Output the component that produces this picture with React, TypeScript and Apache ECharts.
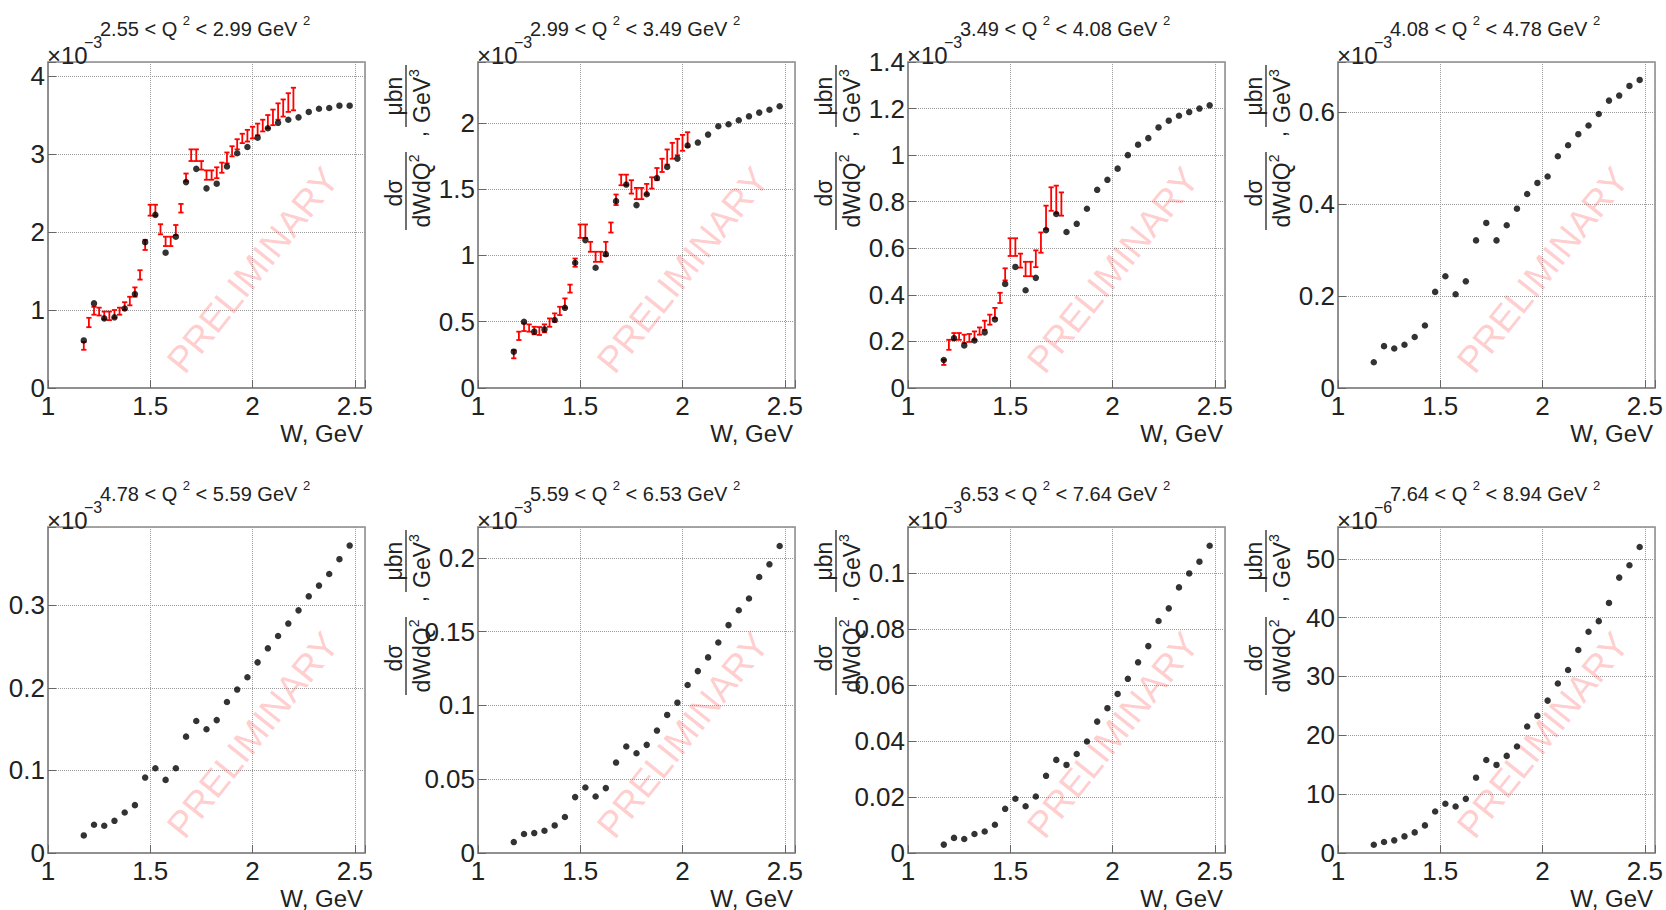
import React, { useEffect, useRef } from "react";
import * as echarts from "echarts";

const FONT = '"Liberation Sans", Arial, Helvetica, sans-serif';

// ---------- data ----------
const Q2_LOW = [2.55, 2.99, 3.49, 4.08, 4.78, 5.59, 6.53, 7.64];
const Q2_HIGH = [2.99, 3.49, 4.08, 4.78, 5.59, 6.53, 7.64, 8.94];
const EXPONENTS = ["\u22123", "\u22123", "\u22123", "\u22123", "\u22123", "\u22123", "\u22123", "\u22126"];
const Y_MAX = [4.18, 2.46, 1.4, 0.709, 0.395, 0.221, 0.1166, 55.4];
const Y_STEP = [1, 0.5, 0.2, 0.2, 0.1, 0.05, 0.02, 10];
const X_MIN = 1;
const X_MAX = 2.55;
const X_STEP = 0.5;

const W_POINTS = [
  1.175, 1.225, 1.275, 1.325, 1.375, 1.425, 1.475, 1.525, 1.575, 1.625, 1.675, 1.725, 1.775, 1.825,
  1.875, 1.925, 1.975, 2.025, 2.075, 2.125, 2.175, 2.225, 2.275, 2.325, 2.375, 2.425, 2.475,
];

const P1 = [0.61, 1.085, 0.893, 0.906, 1.02, 1.205, 1.87, 2.22, 1.735, 1.94, 2.64, 2.81, 2.56, 2.62, 2.84, 3.01, 3.09, 3.21, 3.33, 3.4, 3.44, 3.47, 3.54, 3.58, 3.59, 3.62, 3.62];
const P2 = [0.274, 0.5, 0.425, 0.442, 0.513, 0.605, 0.945, 1.116, 0.907, 1.01, 1.41, 1.535, 1.38, 1.462, 1.585, 1.668, 1.731, 1.83, 1.852, 1.912, 1.975, 1.99, 2.02, 2.05, 2.078, 2.1, 2.126];
const P3 = [0.12, 0.214, 0.183, 0.204, 0.239, 0.294, 0.447, 0.52, 0.42, 0.473, 0.678, 0.747, 0.67, 0.705, 0.77, 0.851, 0.894, 0.942, 1.0, 1.045, 1.073, 1.119, 1.148, 1.169, 1.185, 1.2, 1.214];
const P4 = [0.056, 0.091, 0.086, 0.094, 0.111, 0.136, 0.209, 0.243, 0.204, 0.232, 0.321, 0.359, 0.321, 0.354, 0.39, 0.422, 0.446, 0.46, 0.504, 0.528, 0.552, 0.571, 0.596, 0.625, 0.636, 0.657, 0.67];
const P5 = [0.0213, 0.0342, 0.033, 0.039, 0.049, 0.058, 0.0914, 0.1027, 0.0886, 0.1027, 0.141, 0.16, 0.15, 0.161, 0.183, 0.198, 0.213, 0.231, 0.248, 0.263, 0.278, 0.294, 0.311, 0.324, 0.338, 0.356, 0.3725];
const P6 = [0.0074, 0.0129, 0.0135, 0.0151, 0.0187, 0.0244, 0.0379, 0.0444, 0.0383, 0.044, 0.0613, 0.0722, 0.0676, 0.0733, 0.083, 0.0936, 0.1019, 0.1139, 0.1233, 0.1326, 0.1427, 0.1545, 0.1646, 0.1725, 0.1871, 0.1957, 0.2081];
const P7 = [0.003, 0.0054, 0.005, 0.0068, 0.0077, 0.0101, 0.0158, 0.0194, 0.0167, 0.0202, 0.0276, 0.0333, 0.0315, 0.0354, 0.0399, 0.047, 0.0518, 0.0569, 0.0623, 0.0682, 0.074, 0.083, 0.0875, 0.095, 0.1, 0.1042, 0.1099];
const P8 = [1.41, 1.86, 2.15, 2.82, 3.5, 4.69, 7.06, 8.36, 7.9, 9.2, 12.8, 15.8, 14.97, 16.5, 18.1, 21.5, 23.3, 25.9, 28.8, 31.1, 34.5, 37.6, 39.4, 42.5, 46.8, 48.9, 52.0];
const PANEL_VALUES = [P1, P2, P3, P4, P5, P6, P7, P8];

// red error bars (other measurement): W, low, high
const R1_W = [1.175, 1.2, 1.225, 1.25, 1.275, 1.3, 1.325, 1.35, 1.375, 1.4, 1.425, 1.45, 1.475, 1.5, 1.525, 1.55, 1.575, 1.6, 1.625, 1.65, 1.675, 1.7, 1.725, 1.75, 1.775, 1.8, 1.825, 1.85, 1.875, 1.9, 1.925, 1.95, 1.975, 2.0, 2.025, 2.05, 2.075, 2.1, 2.125, 2.15, 2.175, 2.2];
const R1_LO = [0.49, 0.78, 0.94, 0.93, 0.88, 0.87, 0.9, 0.94, 1.0, 1.06, 1.17, 1.39, 1.77, 2.21, 2.21, 1.97, 1.82, 1.82, 1.96, 2.25, 2.65, 2.91, 2.91, 2.8, 2.67, 2.67, 2.69, 2.76, 2.88, 2.97, 3.06, 3.14, 3.16, 3.2, 3.24, 3.29, 3.33, 3.37, 3.44, 3.48, 3.54, 3.56];
const R1_HI = [0.59, 0.9, 1.04, 1.03, 0.98, 0.98, 1.0, 1.03, 1.1, 1.17, 1.29, 1.51, 1.9, 2.35, 2.35, 2.1, 1.94, 1.94, 2.09, 2.36, 2.75, 3.06, 3.06, 2.91, 2.79, 2.79, 2.83, 2.89, 3.02, 3.1, 3.19, 3.26, 3.31, 3.35, 3.39, 3.44, 3.5, 3.57, 3.65, 3.7, 3.78, 3.85];

const R2_W = [1.175, 1.2, 1.225, 1.25, 1.275, 1.3, 1.325, 1.35, 1.375, 1.4, 1.425, 1.45, 1.475, 1.5, 1.525, 1.55, 1.575, 1.6, 1.625, 1.65, 1.675, 1.7, 1.725, 1.75, 1.775, 1.8, 1.825, 1.85, 1.875, 1.9, 1.925, 1.95, 1.975, 2.0, 2.025];
const R2_LO = [0.224, 0.362, 0.43, 0.425, 0.405, 0.4, 0.42, 0.462, 0.5, 0.55, 0.605, 0.72, 0.915, 1.133, 1.133, 1.028, 0.952, 0.952, 0.997, 1.173, 1.38, 1.53, 1.53, 1.467, 1.425, 1.425, 1.46, 1.505, 1.568, 1.63, 1.686, 1.73, 1.756, 1.79, 1.82];
const R2_HI = [0.286, 0.425, 0.487, 0.48, 0.462, 0.46, 0.48, 0.525, 0.563, 0.613, 0.676, 0.78, 0.977, 1.234, 1.234, 1.103, 1.028, 1.028, 1.103, 1.249, 1.46, 1.61, 1.61, 1.568, 1.51, 1.51, 1.54, 1.59, 1.66, 1.73, 1.8, 1.85, 1.88, 1.91, 1.93];

const R3_W = [1.175, 1.2, 1.225, 1.25, 1.275, 1.3, 1.325, 1.35, 1.375, 1.4, 1.425, 1.45, 1.475, 1.5, 1.525, 1.55, 1.575, 1.6, 1.625, 1.65, 1.675, 1.7, 1.725, 1.75];
const R3_LO = [0.099, 0.164, 0.207, 0.207, 0.193, 0.198, 0.207, 0.229, 0.25, 0.272, 0.3, 0.365, 0.462, 0.567, 0.567, 0.517, 0.48, 0.48, 0.519, 0.581, 0.682, 0.761, 0.75, 0.74];
const R3_HI = [0.121, 0.207, 0.236, 0.236, 0.229, 0.232, 0.243, 0.26, 0.289, 0.315, 0.344, 0.409, 0.514, 0.643, 0.643, 0.577, 0.542, 0.542, 0.591, 0.668, 0.783, 0.862, 0.869, 0.84];

const RED_SETS = [
  { panel: 0, w: R1_W, lo: R1_LO, hi: R1_HI },
  { panel: 1, w: R2_W, lo: R2_LO, hi: R2_HI },
  { panel: 2, w: R3_W, lo: R3_LO, hi: R3_HI },
];

// ---------- layout ----------
const GRID_LEFT = [48, 478, 908, 1338];
const GRID_TOP = [62, 527];
const GRID_W = 317;
const GRID_H = 326;

const isMultiple = (v: number, step: number) => Math.abs(v / step - Math.round(v / step)) < 1e-6;
const fmt = (v: number) => String(parseFloat(v.toFixed(6)));

function buildOption() {
  const grids: any[] = [];
  const xAxes: any[] = [];
  const yAxes: any[] = [];
  const series: any[] = [];
  const graphics: any[] = [];

  for (let i = 0; i < 8; i++) {
    const col = i % 4;
    const row = Math.floor(i / 4);
    const left = GRID_LEFT[col];
    const top = GRID_TOP[row];
    grids.push({
      left,
      top,
      width: GRID_W,
      height: GRID_H,
      show: true,
      borderColor: "#8a8a8a",
      borderWidth: 1.5,
      containLabel: false,
      outerBoundsMode: "none",
    });
    const gridLine = { show: true, lineStyle: { type: "dotted", color: "#9a9a9a", width: 1 } };
    xAxes.push({
      gridIndex: i,
      type: "value",
      min: X_MIN,
      max: X_MAX,
      interval: X_STEP,
      axisLine: { show: true, onZero: false, lineStyle: { color: "#8a8a8a", width: 1.5 } },
      axisTick: { show: true, inside: true, length: 8, lineStyle: { color: "#666", width: 1 } },
      axisLabel: {
        fontSize: 26,
        fontFamily: FONT,
        color: "#222",
        margin: 5,
        formatter: (v: number) => (isMultiple(v, X_STEP) ? fmt(v) : ""),
      },
      splitLine: gridLine,
    });
    const step = Y_STEP[i];
    yAxes.push({
      gridIndex: i,
      type: "value",
      min: 0,
      max: Y_MAX[i],
      interval: step,
      axisLine: { show: true, onZero: false, lineStyle: { color: "#8a8a8a", width: 1.5 } },
      axisTick: { show: true, inside: true, length: 8, lineStyle: { color: "#666", width: 1 } },
      axisLabel: {
        fontSize: 26,
        fontFamily: FONT,
        color: "#222",
        margin: 3,
        formatter: (v: number) => (isMultiple(v, step) ? fmt(v) : ""),
      },
      splitLine: gridLine,
    });

    series.push({
      type: "scatter",
      xAxisIndex: i,
      yAxisIndex: i,
      symbol: "circle",
      symbolSize: 6.5,
      itemStyle: { color: "#000" },
      z: 4,
      data: W_POINTS.map((w, j) => [w, PANEL_VALUES[i][j]]),
    });

    // title
    graphics.push({
      type: "text",
      x: left + 52,
      y: top - 36,
      z: 10,
      style: {
        text: `{n|${Q2_LOW[i].toFixed(2)} < Q }{s|2}{n| < ${Q2_HIGH[i].toFixed(2)} GeV }{s|2}`,
        fontFamily: FONT,
        fontSize: 20,
        fill: "#222",
        align: "left",
        textAlign: "left",
        verticalAlign: "middle",
        textVerticalAlign: "middle",
        rich: {
          n: { fontSize: 20, lineHeight: 25, fontFamily: FONT, fill: "#222", color: "#222", verticalAlign: "bottom" },
          s: { fontSize: 13, lineHeight: 14, fontFamily: FONT, fill: "#222", color: "#222", verticalAlign: "top" },
        },
      },
    });
    // exponent label
    graphics.push({
      type: "text",
      x: left - 1,
      y: top + 5,
      z: 10,
      style: {
        text: "\u00d710",
        fontFamily: FONT,
        fontSize: 24,
        fill: "#222",
        align: "left",
        textAlign: "left",
        verticalAlign: "bottom",
        textVerticalAlign: "bottom",
      },
    });
    graphics.push({
      type: "text",
      x: left + 36,
      y: top - 12,
      z: 10,
      style: {
        text: EXPONENTS[i],
        fontFamily: FONT,
        fontSize: 16,
        fill: "#222",
        align: "left",
        textAlign: "left",
        verticalAlign: "bottom",
        textVerticalAlign: "bottom",
      },
    });
    // x axis title
    graphics.push({
      type: "text",
      x: left + GRID_W - 2,
      y: top + GRID_H + 45,
      z: 10,
      style: {
        text: "W, GeV",
        fontFamily: FONT,
        fontSize: 24,
        fill: "#222",
        align: "right",
        textAlign: "right",
        verticalAlign: "middle",
        textVerticalAlign: "middle",
      },
    });
    // watermark
    graphics.push({
      type: "text",
      x: left + 205,
      y: top + 208,
      rotation: 0.897,
      z: 1,
      silent: true,
      style: {
        text: "PRELIMINARY",
        fontFamily: FONT,
        fontSize: 37,
        fill: "rgba(255, 60, 60, 0.26)",
        align: "center",
        textAlign: "center",
        verticalAlign: "middle",
        textVerticalAlign: "middle",
      },
    });
    // y axis title (fraction), not visible for the first column
    if (col > 0) {
      const txt = (text: string, x: number, y: number, va: string, rich?: any) => ({
        type: "text",
        x,
        y,
        style: {
          text,
          fontFamily: FONT,
          fontSize: 23,
          fill: "#222",
          align: "center",
          textAlign: "center",
          verticalAlign: va,
          textVerticalAlign: va,
          rich,
        },
      });
      const supRich = {
        n: { fontSize: 23, lineHeight: 26, fontFamily: FONT, fill: "#222", color: "#222", verticalAlign: "bottom" },
        s: { fontSize: 14, lineHeight: 15, fontFamily: FONT, fill: "#222", color: "#222", verticalAlign: "top" },
      };
      graphics.push({
        type: "group",
        x: left - 72,
        y: top + 168,
        rotation: Math.PI / 2,
        z: 10,
        children: [
          { type: "line", shape: { x1: 0, y1: 0, x2: 78, y2: 0 }, style: { stroke: "#222", lineWidth: 1.3 } },
          txt("d\u03c3", 37, -1, "bottom"),
          txt("{n|dWdQ}{s|2}", 39, 1, "top", supRich),
          txt(",", 96, 0, "top"),
          { type: "line", shape: { x1: 103, y1: 0, x2: 165, y2: 0 }, style: { stroke: "#222", lineWidth: 1.3 } },
          txt("\u03bcbn", 134, -1, "bottom"),
          txt("{n|GeV}{s|3}", 134, 1, "top", supRich),
        ],
      });
    }
  }

  RED_SETS.forEach((set) => {
    series.push({
      type: "custom",
      xAxisIndex: set.panel,
      yAxisIndex: set.panel,
      z: 3,
      encode: { x: 0, y: [1, 2] },
      data: set.w.map((w, j) => [w, set.lo[j], set.hi[j]]),
      renderItem: (params: any, api: any) => {
        const x = api.value(0);
        const lo = api.coord([x, api.value(1)]);
        const hi = api.coord([x, api.value(2)]);
        const cap = 2.6;
        const style = { stroke: "#ff0000", lineWidth: 1.8 };
        return {
          type: "group",
          children: [
            { type: "line", shape: { x1: lo[0], y1: lo[1], x2: hi[0], y2: hi[1] }, style },
            { type: "line", shape: { x1: lo[0] - cap, y1: lo[1], x2: lo[0] + cap, y2: lo[1] }, style },
            { type: "line", shape: { x1: hi[0] - cap, y1: hi[1], x2: hi[0] + cap, y2: hi[1] }, style },
          ],
        };
      },
    });
  });

  return {
    animation: false,
    backgroundColor: "#ffffff",
    textStyle: { fontFamily: FONT },
    grid: grids,
    xAxis: xAxes,
    yAxis: yAxes,
    series,
    graphic: { elements: graphics },
  };
}

export default function App() {
  const ref = useRef<HTMLDivElement>(null);
  useEffect(() => {
    if (!ref.current) return;
    const chart = echarts.init(ref.current, undefined, { renderer: "svg" });
    chart.setOption(buildOption() as any);
    return () => chart.dispose();
  }, []);
  return (
    <div
      ref={ref}
      style={{ position: "absolute", left: 0, top: 0, width: 1666, height: 910, background: "#fff" }}
    />
  );
}
